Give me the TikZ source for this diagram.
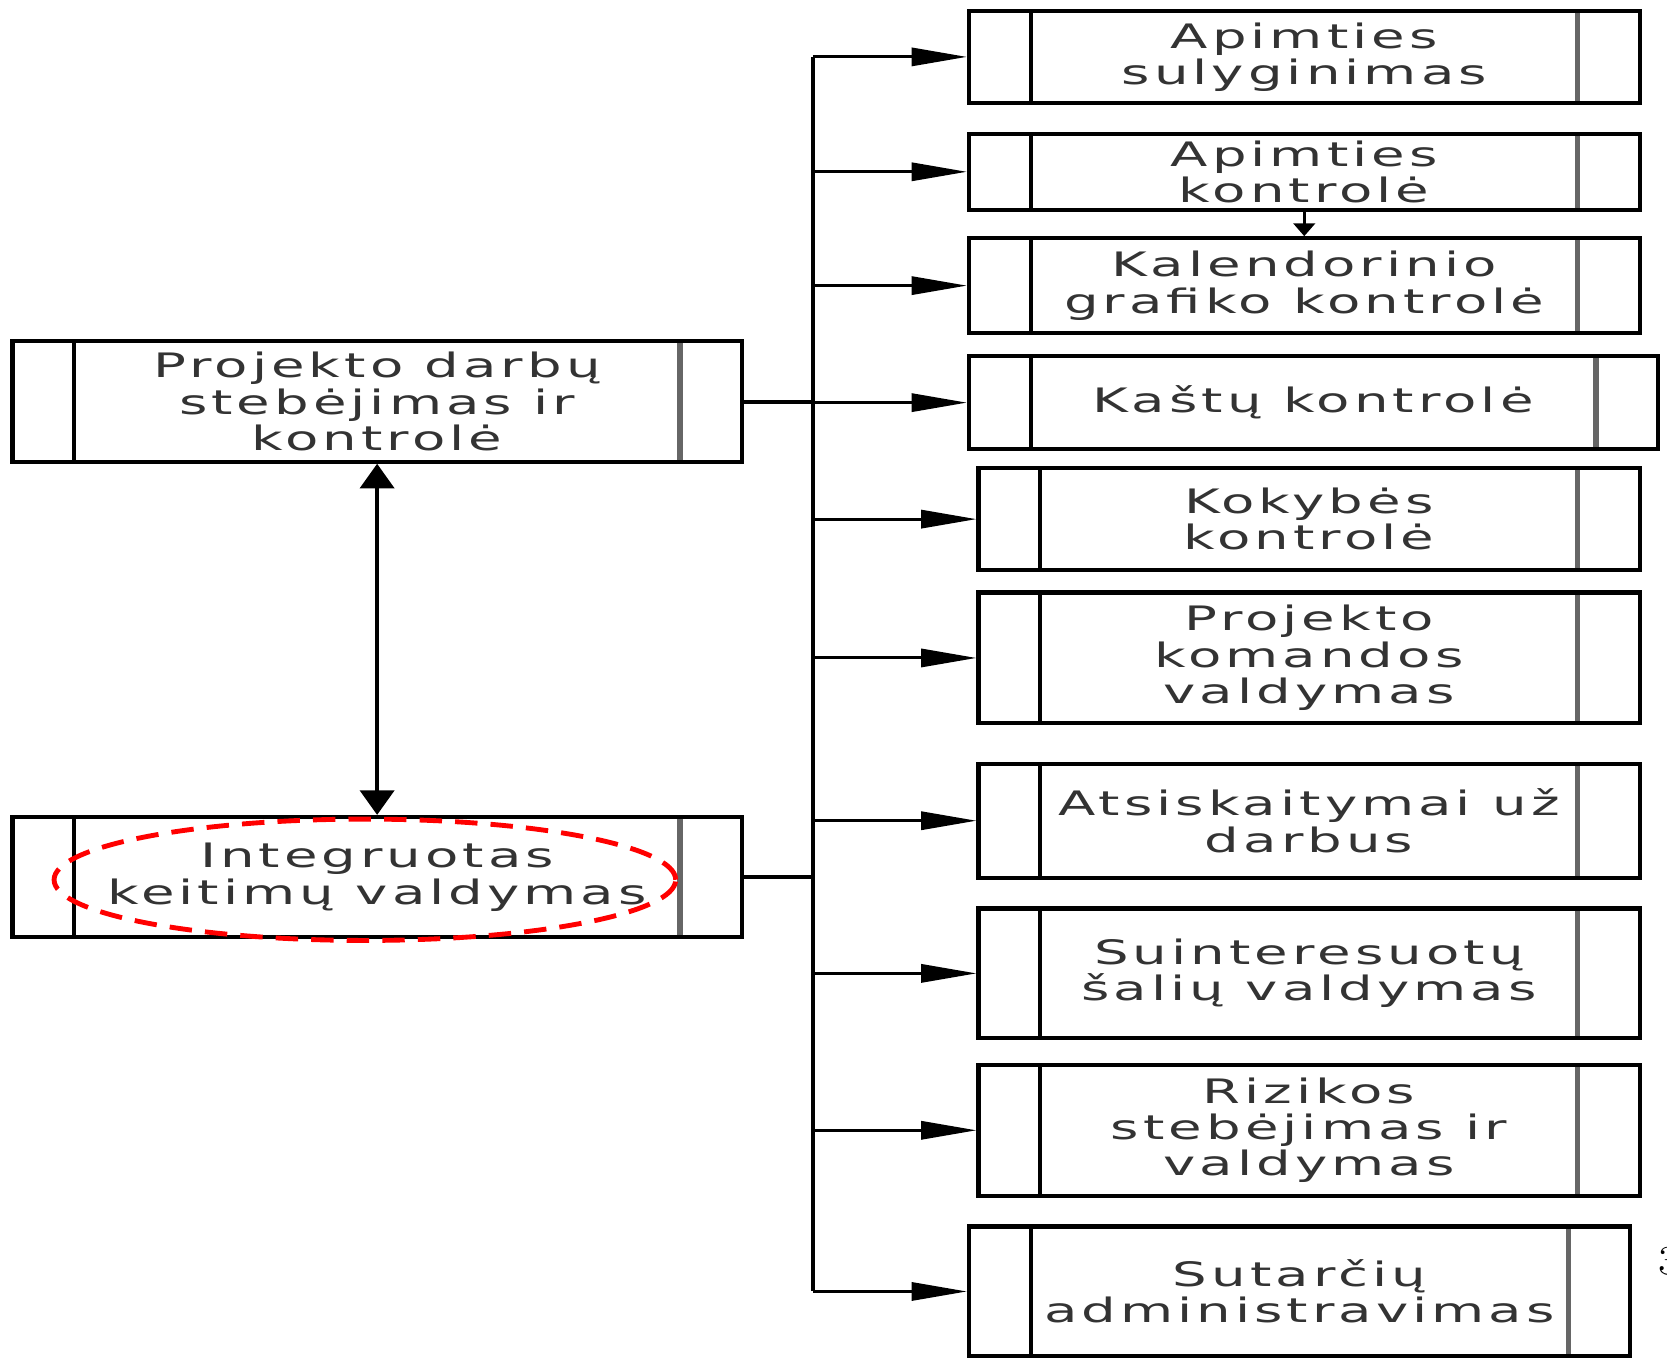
\documentclass[tikz,border=0pt]{standalone}
\usepackage{fontspec}
\newfontfamily\boxfont[FakeStretch=1.62,LetterSpace=12]{DejaVu Sans}
\usetikzlibrary{arrows.meta}

\tikzset{
  proc/.style={draw,rectangle,line width=1.1pt,inner sep=0pt,align=center,text=black!80,
    font=\boxfont\fontsize{9}{9.7}\selectfont,
    path picture={
      \draw[line width=1.1pt] ([xshift=5.8mm]path picture bounding box.north west) -- ([xshift=5.8mm]path picture bounding box.south west);
      \draw[line width=1.4pt,black!60] ([xshift=-5.8mm]path picture bounding box.north east) -- ([xshift=-5.8mm]path picture bounding box.south east);
    }},
  link/.style={line width=0.8pt,-{Triangle[length=5.2mm,width=1.7mm]}},
}

\begin{document}
\begin{tikzpicture}[x=0.01cm,y=-0.01cm]
  % left side
  \node[proc,minimum width=6.85cm,minimum height=1.13cm] (L1) at (354.5,377.5) {Projekto darbų\\stebėjimas ir\\kontrolė};
  \node[proc,minimum width=6.85cm,minimum height=1.13cm] (L2) at (354.5,824.5) {Integruotas\\keitimų valdymas};

  % right side
  \node[proc,minimum width=6.3cm,minimum height=0.87cm] (R1) at (1226,53.5) {Apimties\\sulyginimas};
  \node[proc,minimum width=6.3cm,minimum height=0.71cm] (R2) at (1226,161.5) {Apimties\\kontrolė};
  \node[proc,minimum width=6.3cm,minimum height=0.89cm] (R3) at (1226,268.5) {Kalendorinio\\grafiko kontrolė};
  \node[proc,minimum width=6.47cm,minimum height=0.87cm] (R4) at (1234.5,378.5) {Kaštų kontrolė};
  \node[proc,minimum width=6.21cm,minimum height=0.96cm] (R5) at (1230.5,488) {Kokybės\\kontrolė};
  \node[proc,minimum width=6.21cm,minimum height=1.23cm] (R6) at (1230.5,618.5) {Projekto\\komandos\\valdymas};
  \node[proc,minimum width=6.21cm,minimum height=1.07cm] (R7) at (1230.5,771.5) {Atsiskaitymai už\\darbus};
  \node[proc,minimum width=6.21cm,minimum height=1.22cm] (R8) at (1230.5,915) {Suinteresuotų\\šalių valdymas};
  \node[proc,minimum width=6.21cm,minimum height=1.23cm] (R9) at (1230.5,1062.5) {Rizikos\\stebėjimas ir\\valdymas};
  \node[proc,minimum width=6.21cm,minimum height=1.22cm] (R10) at (1221.5,1214) {Sutarčių\\administravimas};

  \node[anchor=west,inner sep=0pt,font=\fontsize{11}{13}\selectfont] (pg) at (1558,1186) {3};

  % bus
  \coordinate (bus) at (764,0);
  \draw[line width=1.1pt] (bus |- R1.west) -- (bus |- R10.west);
  \draw[line width=1.1pt] (L1.east) -- (bus |- L1.east);
  \draw[line width=1.1pt] (L2.east) -- (bus |- L2.east);
  \foreach \n in {1,...,10}
    \draw[link] (bus |- R\n.west) -- (R\n.west);

  \path[line width=0.9pt]
    (L1) edge[{Triangle[length=2.3mm,width=3.2mm]}-{Triangle[length=2.3mm,width=3.2mm]}] (L2)
    (R2) edge[-{Triangle[length=1.2mm,width=2mm]}] (R3);

  % marked process
  \draw[red,line width=1.3pt,dash pattern=on 6pt off 3.5pt] (343,827) ellipse [x radius=2.92cm,y radius=0.57cm];

  \pgfresetboundingbox
  \useasboundingbox (0,0) rectangle (1567,1277);
\end{tikzpicture}
\end{document}
